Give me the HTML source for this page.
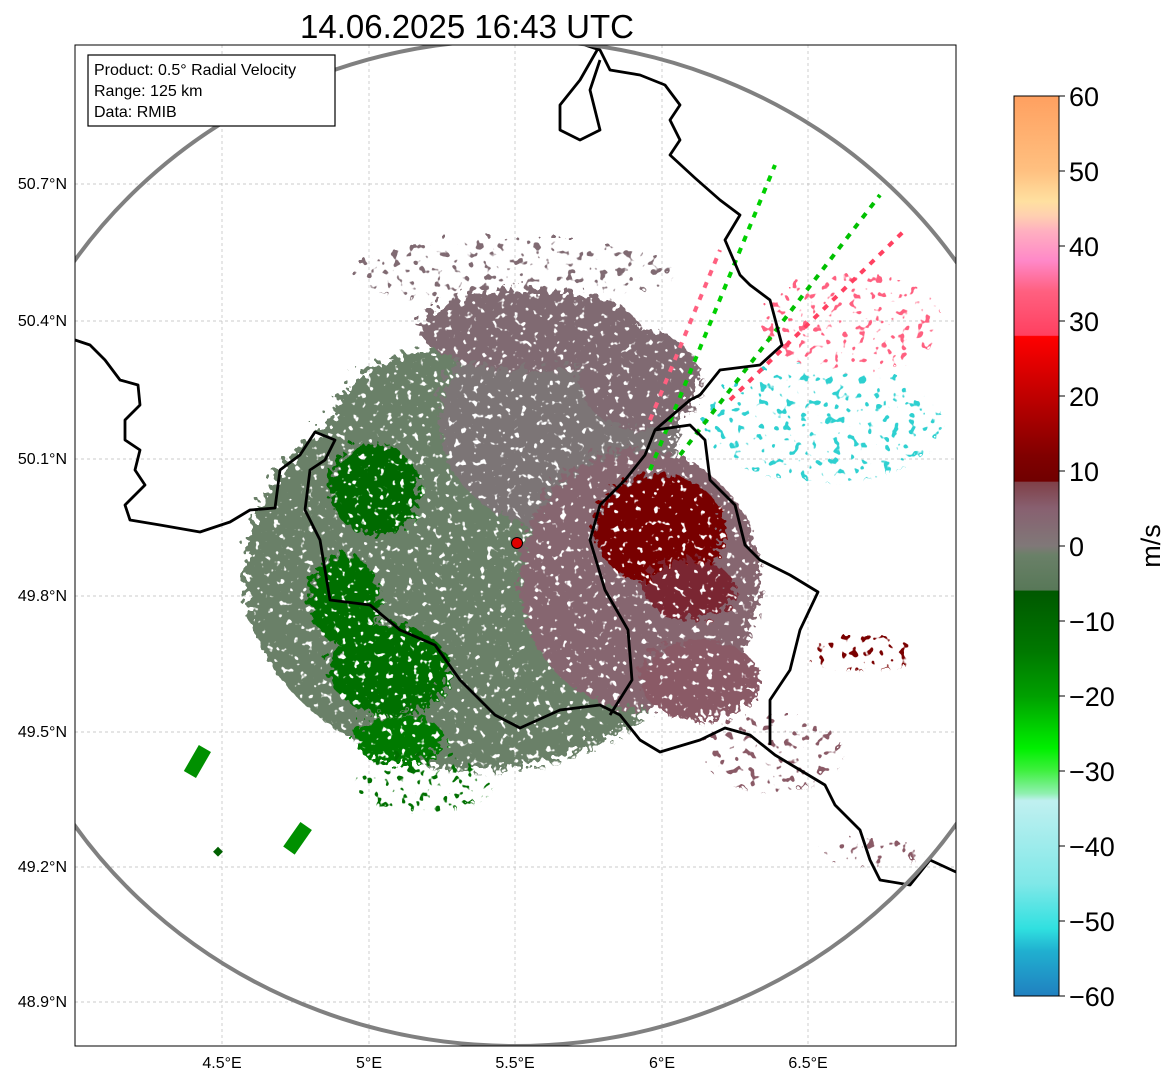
<!DOCTYPE html>
<html><head><meta charset="utf-8"><style>
body{margin:0;background:#fff;width:1171px;height:1081px;overflow:hidden;font-family:"Liberation Sans","DejaVu Sans",sans-serif}
</style></head><body>
<svg width="1171" height="1081" viewBox="0 0 1171 1081" font-family="Liberation Sans, DejaVu Sans, sans-serif">
<defs>
<clipPath id="plot"><rect x="75" y="45" width="881" height="1001"/></clipPath>
<filter id="speck" x="-10%" y="-10%" width="120%" height="120%">
 <feTurbulence type="fractalNoise" baseFrequency="0.15" numOctaves="2" seed="3" result="n"/>
 <feDisplacementMap in="SourceGraphic" in2="n" scale="30" result="d"/>
 <feColorMatrix in="n" type="matrix" values="0 0 0 0 0  0 0 0 0 0  0 0 0 0 0  0 0 0 12 -3.2" result="m"/>
 <feComposite in="d" in2="m" operator="in"/>
</filter>
<filter id="speck2" x="-10%" y="-10%" width="120%" height="120%">
 <feTurbulence type="fractalNoise" baseFrequency="0.12" numOctaves="2" seed="7" result="n"/>
 <feDisplacementMap in="SourceGraphic" in2="n" scale="40" result="d"/>
 <feColorMatrix in="n" type="matrix" values="0 0 0 0 0  0 0 0 0 0  0 0 0 0 0  0 0 0 16 -10" result="m"/>
 <feComposite in="d" in2="m" operator="in"/>
</filter>
<linearGradient id="cb" x1="0" y1="0" x2="0" y2="1">
 <stop offset="0" stop-color="#ffa060"/><stop offset="0.083" stop-color="#ffc080"/>
 <stop offset="0.117" stop-color="#ffe0a0"/><stop offset="0.133" stop-color="#ffd0b0"/>
 <stop offset="0.15" stop-color="#ffb0c0"/><stop offset="0.183" stop-color="#ff88c8"/>
 <stop offset="0.217" stop-color="#ff6080"/><stop offset="0.266" stop-color="#ff4060"/>
 <stop offset="0.267" stop-color="#ff0000"/><stop offset="0.333" stop-color="#c00000"/>
 <stop offset="0.4" stop-color="#800000"/><stop offset="0.428" stop-color="#700000"/>
 <stop offset="0.429" stop-color="#804048"/><stop offset="0.458" stop-color="#886070"/>
 <stop offset="0.5" stop-color="#807878"/><stop offset="0.51" stop-color="#6a8068"/>
 <stop offset="0.549" stop-color="#587858"/><stop offset="0.55" stop-color="#005800"/>
 <stop offset="0.617" stop-color="#007800"/><stop offset="0.667" stop-color="#00a000"/>
 <stop offset="0.725" stop-color="#00f000"/><stop offset="0.75" stop-color="#40f040"/>
 <stop offset="0.775" stop-color="#90f0b0"/><stop offset="0.783" stop-color="#c0f0f0"/>
 <stop offset="0.875" stop-color="#80e8e8"/><stop offset="0.925" stop-color="#30e0e0"/>
 <stop offset="0.95" stop-color="#20b0d0"/><stop offset="1" stop-color="#2080c0"/>
</linearGradient>
</defs>

<text x="467" y="38" text-anchor="middle" font-size="33">14.06.2025 16:43 UTC</text>

<g clip-path="url(#plot)">
 <g stroke="#bbb" stroke-width="0.7" stroke-dasharray="3,3">
  <line x1="222" y1="45" x2="222" y2="1046"/><line x1="369" y1="45" x2="369" y2="1046"/>
  <line x1="515" y1="45" x2="515" y2="1046"/><line x1="662" y1="45" x2="662" y2="1046"/>
  <line x1="808" y1="45" x2="808" y2="1046"/>
  <line x1="75" y1="184" x2="956" y2="184"/><line x1="75" y1="321" x2="956" y2="321"/>
  <line x1="75" y1="459" x2="956" y2="459"/><line x1="75" y1="596" x2="956" y2="596"/>
  <line x1="75" y1="732" x2="956" y2="732"/><line x1="75" y1="867" x2="956" y2="867"/>
  <line x1="75" y1="1002" x2="956" y2="1002"/>
 </g>
 <g>
  <g filter="url(#speck)">
   <ellipse cx="480" cy="575" rx="235" ry="195" fill="#6b8068"/>
   <ellipse cx="450" cy="430" rx="120" ry="80" fill="#6b8068"/>
   <ellipse cx="560" cy="420" rx="120" ry="110" fill="#7b7476"/>
   <ellipse cx="530" cy="330" rx="110" ry="40" fill="#806a72"/>
   <ellipse cx="640" cy="380" rx="60" ry="50" fill="#806a72"/>
   <ellipse cx="640" cy="580" rx="120" ry="130" fill="#866670"/>
   <ellipse cx="700" cy="680" rx="60" ry="40" fill="#8a5a66"/>
   <ellipse cx="375" cy="490" rx="45" ry="45" fill="#006a00"/>
   <ellipse cx="345" cy="600" rx="35" ry="45" fill="#007000"/>
   <ellipse cx="390" cy="670" rx="60" ry="45" fill="#007000"/>
   <ellipse cx="400" cy="740" rx="45" ry="25" fill="#007a00"/>
   <ellipse cx="660" cy="530" rx="65" ry="55" fill="#780000"/>
   <ellipse cx="690" cy="590" rx="45" ry="30" fill="#7a2530"/>
  </g>
  <g filter="url(#speck2)">
   <ellipse cx="870" cy="660" rx="60" ry="18" fill="#7a0000"/>
   <ellipse cx="830" cy="430" rx="120" ry="60" fill="#2fd0d0"/>
   <ellipse cx="860" cy="330" rx="90" ry="50" fill="#ff6080"/>
   <ellipse cx="520" cy="280" rx="160" ry="35" fill="#806a72"/>
   <ellipse cx="780" cy="760" rx="70" ry="40" fill="#8a5a66"/>
   <ellipse cx="430" cy="790" rx="70" ry="30" fill="#007000"/>
   <ellipse cx="880" cy="860" rx="50" ry="15" fill="#8a5a66"/>
  </g>
  <g stroke-width="4" stroke-dasharray="6,7" fill="none">
   <line x1="650" y1="470" x2="775" y2="165" stroke="#00d000"/>
   <line x1="680" y1="455" x2="880" y2="195" stroke="#00c000"/>
   <line x1="650" y1="420" x2="720" y2="250" stroke="#ff6080"/>
   <line x1="730" y1="400" x2="905" y2="230" stroke="#ff4060"/>
  </g>
  <rect x="190" y="748" width="14" height="30" fill="#009000" transform="rotate(30 200 763)"/>
  <rect x="290" y="825" width="14" height="30" fill="#009000" transform="rotate(35 300 840)"/>
  <rect x="215" y="848" width="7" height="7" fill="#006000" transform="rotate(45 218 851)"/>
 </g>
 <g fill="none" stroke="#000" stroke-width="2.8" stroke-linejoin="round">
  <polyline points="75,340 90,345 105,360 120,380 138,385 140,405 125,420 125,440 140,450 135,470 145,485 125,505 130,520 160,525 200,532 230,522 250,510 275,508 280,470 300,455 315,432 335,440 325,460 310,470 305,510 320,540 330,600 370,605 400,630 435,645 460,680 495,715 520,728 560,710 600,705 620,715 640,740 660,752 700,740 725,728 750,735 775,755 800,770 825,785 835,805 860,830 870,860 880,880 910,885 930,860 956,872"/>
  <polyline points="610,715 632,680 628,630 605,590 590,540 600,505 625,480 645,455 655,430 690,425 705,440 710,480 735,505 745,545 760,560 790,575 818,592 800,630 790,670 770,700 770,745"/>
  <polyline points="655,430 690,400 700,395 720,370 760,365 782,345 770,300 750,285 740,275 725,240 740,215 720,200 695,178 670,155 680,140 670,120 680,105 665,85 640,75 610,70 600,50 585,45"/>
  <polyline points="600,45 580,80 560,105 560,130 580,140 600,130 595,110 590,90 600,60"/>
 </g>
 <ellipse cx="515" cy="543" rx="532" ry="503" fill="none" stroke="#808080" stroke-width="4"/>
 <circle cx="517" cy="543" r="5.5" fill="#e00000" stroke="#000" stroke-width="1"/>
</g>
<rect x="75" y="45" width="881" height="1001" fill="none" stroke="#000" stroke-width="1"/>

<g>
 <rect x="88" y="55" width="247" height="71" fill="#fff" stroke="#000" stroke-width="1.2"/>
 <text x="94" y="75" font-size="16">Product: 0.5° Radial Velocity</text>
 <text x="94" y="96" font-size="16">Range: 125 km</text>
 <text x="94" y="117" font-size="16">Data: RMIB</text>
</g>

<g font-size="16" text-anchor="middle">
 <text x="222" y="1068">4.5°E</text><text x="369" y="1068">5°E</text><text x="515" y="1068">5.5°E</text>
 <text x="662" y="1068">6°E</text><text x="808" y="1068">6.5°E</text>
</g>
<g font-size="16" text-anchor="end">
 <text x="67" y="189">50.7°N</text><text x="67" y="326">50.4°N</text><text x="67" y="464">50.1°N</text>
 <text x="67" y="601">49.8°N</text><text x="67" y="737">49.5°N</text><text x="67" y="872">49.2°N</text>
 <text x="67" y="1007">48.9°N</text>
</g>

<g>
 <rect x="1014" y="96" width="45" height="900" fill="url(#cb)" stroke="#000" stroke-width="1"/>
 <g stroke="#000" stroke-width="1">
  <line x1="1059" y1="96" x2="1065" y2="96"/><line x1="1059" y1="171" x2="1065" y2="171"/>
  <line x1="1059" y1="246" x2="1065" y2="246"/><line x1="1059" y1="321" x2="1065" y2="321"/>
  <line x1="1059" y1="396" x2="1065" y2="396"/><line x1="1059" y1="471" x2="1065" y2="471"/>
  <line x1="1059" y1="546" x2="1065" y2="546"/><line x1="1059" y1="621" x2="1065" y2="621"/>
  <line x1="1059" y1="696" x2="1065" y2="696"/><line x1="1059" y1="771" x2="1065" y2="771"/>
  <line x1="1059" y1="846" x2="1065" y2="846"/><line x1="1059" y1="921" x2="1065" y2="921"/>
  <line x1="1059" y1="996" x2="1065" y2="996"/>
 </g>
 <g font-size="27">
  <text x="1069" y="106">60</text><text x="1069" y="181">50</text><text x="1069" y="256">40</text>
  <text x="1069" y="331">30</text><text x="1069" y="406">20</text><text x="1069" y="481">10</text>
  <text x="1069" y="556">0</text><text x="1069" y="631">−10</text><text x="1069" y="706">−20</text>
  <text x="1069" y="781">−30</text><text x="1069" y="856">−40</text><text x="1069" y="931">−50</text>
  <text x="1069" y="1006">−60</text>
 </g>
 <text x="1160" y="546" font-size="27" text-anchor="middle" transform="rotate(-90 1160 546)">m/s</text>
</g>
</svg>
</body></html>
